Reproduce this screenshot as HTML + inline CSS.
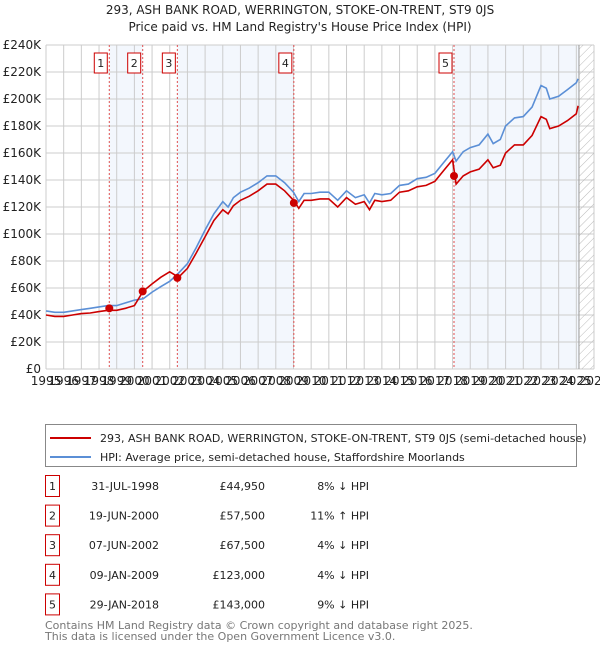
<!DOCTYPE html>
<html><head><meta charset="utf-8"><style>
body{margin:0;background:#fff;font-family:"Liberation Sans","DejaVu Sans",sans-serif;}
svg text{font-family:"DejaVu Sans","Liberation Sans",sans-serif;}
</style></head><body>
<svg id="c" width="600" height="650" viewBox="0 0 600 650" xmlns="http://www.w3.org/2000/svg">
<defs><pattern id="hatch" width="6" height="6" patternUnits="userSpaceOnUse" patternTransform="rotate(45)"><line x1="0" y1="0" x2="0" y2="6" stroke="#bbb" stroke-width="1"/></pattern></defs>
<text x="300" y="14" text-anchor="middle" font-size="12" fill="#222">293, ASH BANK ROAD, WERRINGTON, STOKE-ON-TRENT, ST9 0JS</text>
<text x="300" y="31" text-anchor="middle" font-size="12" fill="#222">Price paid vs. HM Land Registry's House Price Index (HPI)</text>
<g id="plot"></g>
<g>
<rect x="45.5" y="424.5" width="531" height="42" fill="#fff" stroke="#888"/>
<line x1="50" y1="438" x2="91" y2="438" stroke="#cc0000" stroke-width="2"/>
<text x="100" y="442" font-size="11" fill="#222">293, ASH BANK ROAD, WERRINGTON, STOKE-ON-TRENT, ST9 0JS (semi-detached house)</text>
<line x1="50" y1="457" x2="91" y2="457" stroke="#5b8fd6" stroke-width="2"/>
<text x="100" y="461" font-size="11" fill="#222">HPI: Average price, semi-detached house, Staffordshire Moorlands</text>
</g>
<g id="table"></g>
<text x="45" y="629" font-size="11" fill="#777">Contains HM Land Registry data © Crown copyright and database right 2025.</text>
<text x="45" y="640" font-size="11" fill="#777">This data is licensed under the Open Government Licence v3.0.</text>
</svg>
<script>
const years=[1995,1995.5,1996,1996.5,1997,1997.5,1998,1998.5,1999,1999.5,2000,2000.5,2001,2001.5,2002,2002.5,2003,2003.5,2004,2004.5,2005,2005.3,2005.6,2006,2006.5,2007,2007.5,2008,2008.5,2009,2009.3,2009.6,2010,2010.5,2011,2011.5,2012,2012.5,2013,2013.3,2013.6,2014,2014.5,2015,2015.5,2016,2016.5,2017,2017.5,2018,2018.2,2018.6,2019,2019.5,2020,2020.3,2020.7,2021,2021.5,2022,2022.5,2023,2023.3,2023.5,2024,2024.5,2025,2025.1];
const hpi=[43,42,42,43,44,45,46,47,47,49,51,52,57,61,65,71,78,90,103,115,124,120,127,131,134,138,143,143,138,131,124,130,130,131,131,125,132,127,129,123,130,129,130,136,137,141,142,145,153,161,154,161,164,166,174,167,170,180,186,187,194,210,208,200,202,207,212,215];
const price=[40,39,39,40,41,41.5,42.5,43.5,43.5,45,47,57.7,63,68,72,68,74.5,86,98,110,118,115,121,125,128,132,137,137,132,125,119,125,125,126,126,120,127,122,124,118,125,124,125,131,132,135,136,139,147,155,137,143,146,148,155,149,151,160,166,166,173,187,185,178,180,184,189,195];
const saleYears=[1998.58,2000.47,2002.43,2009.02,2018.08];
const saleValues=[44.95,57.5,67.5,123,143];
const saleDates=["31-JUL-1998","19-JUN-2000","07-JUN-2002","09-JAN-2009","29-JAN-2018"];
const salePrices=["£44,950","£57,500","£67,500","£123,000","£143,000"];
const saleDiffs=["8% ↓ HPI","11% ↑ HPI","4% ↓ HPI","4% ↓ HPI","9% ↓ HPI"];
const yTicks=[0,20,40,60,80,100,120,140,160,180,200,220,240];
const yLabels=["£0","£20K","£40K","£60K","£80K","£100K","£120K","£140K","£160K","£180K","£200K","£220K","£240K"];
const xTicks=[1995,1996,1997,1998,1999,2000,2001,2002,2003,2004,2005,2006,2007,2008,2009,2010,2011,2012,2013,2014,2015,2016,2017,2018,2019,2020,2021,2022,2023,2024,2025,2026];
const X0=46,X1=594,Y0=369,Y1=45;
const xs=y=>X0+(y-1995)/(2026-1995)*(X1-X0);
const ys=v=>Y0-v/240*(Y0-Y1);
const NS="http://www.w3.org/2000/svg";
const plot=document.getElementById('plot');
function mk(tag,attrs,parent){const e=document.createElementNS(NS,tag);for(const k in attrs)e.setAttribute(k,attrs[k]);(parent||plot).appendChild(e);return e;}
[[0,1],[2,3],[4,null]].forEach(([a,b])=>{
 const x1=xs(saleYears[a]),x2=b===null?xs(2025.15):xs(saleYears[b]);
 const r=mk('rect',{x:x1,y:Y1,width:x2-x1,height:Y0-Y1,fill:'#eef3fc','fill-opacity':0.7});
 
 
});
yTicks.forEach((t,i)=>{
 const l=mk('line',{x1:X0,x2:X1,y1:ys(t),y2:ys(t),stroke:'#ccc','stroke-width':1});
 
 
 const tx=mk('text',{x:X0-5,y:ys(t)+4,'text-anchor':'end','font-size':12,fill:'#222'});
 tx.textContent=yLabels[i];
 
 
});
xTicks.forEach(t=>{
 const l=mk('line',{x1:xs(t),x2:xs(t),y1:Y1,y2:Y0,stroke:'#ccc','stroke-width':1});
 
 
 const tx=mk('text',{x:xs(t),y:Y0+16,'text-anchor':'middle','font-size':12,fill:'#222'});
 tx.textContent=t;
 
 
});
const hx=xs(2025.15);
const h=mk('rect',{x:hx,y:Y1,width:X1-hx,height:Y0-Y1,fill:'url(#hatch)'});


mk('line',{x1:hx,x2:hx,y1:Y1,y2:Y0,stroke:'#999','stroke-width':1});
saleYears.forEach((sy,i)=>{
 const l=mk('line',{x1:xs(sy),x2:xs(sy),y1:Y1,y2:Y0,stroke:'#e05050','stroke-width':1,'stroke-dasharray':'2,2'});
 
 
 const g=mk('g',{});
 
 
 mk('rect',{x:xs(sy)-15,y:53,width:13,height:20,fill:'#fff',stroke:'#cc0000'},g);
 const t=mk('text',{x:xs(sy)-8.5,y:67,'text-anchor':'middle','font-size':11,fill:'#222'},g);
 t.textContent=i+1;
});
function line(arr,color,name){
 const d=arr.map((v,i)=>(i?'L':'M')+xs(years[i]).toFixed(1)+','+ys(v).toFixed(1)).join('');
 const p=mk('path',{d:d,fill:'none',stroke:color,'stroke-width':1.6});
 
 
}
line(hpi,'#5b8fd6','hpi-line');
line(price,'#cc0000','price-paid-line');
saleYears.forEach((sy,i)=>{
 const c=mk('circle',{cx:xs(sy),cy:ys(saleValues[i]),r:4,fill:'#cc0000'});
 
 
});
const tb=document.getElementById('table');
saleDates.forEach((d,i)=>{
 const cy=486+i*29.6;
 const g=mk('g',{},tb);
 
 
 mk('rect',{x:45.5,y:cy-10.5,width:14,height:21,fill:'#fff',stroke:'#cc0000'},g);
 const n=mk('text',{x:52.5,y:cy+4,'text-anchor':'middle','font-size':11,fill:'#222'},g);n.textContent=i+1;
 const a=mk('text',{x:159,y:cy+4,'text-anchor':'end','font-size':11,fill:'#222'},g);a.textContent=d;
 const b=mk('text',{x:265,y:cy+4,'text-anchor':'end','font-size':11,fill:'#222'},g);b.textContent=salePrices[i];
 const c=mk('text',{x:369,y:cy+4,'text-anchor':'end','font-size':11,fill:'#222'},g);c.textContent=saleDiffs[i];
});
</script>
</body></html>
